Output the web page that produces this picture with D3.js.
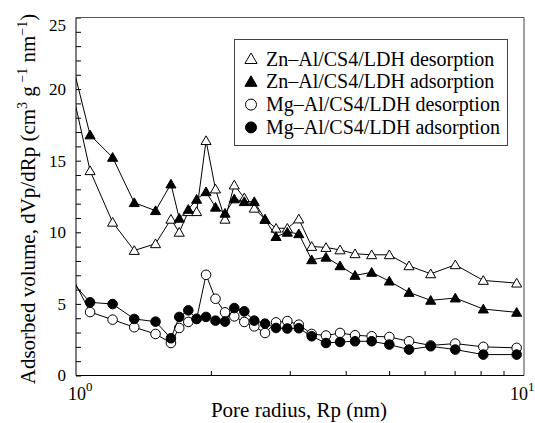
<!DOCTYPE html>
<html>
<head>
<meta charset="utf-8">
<script src="https://cdn.jsdelivr.net/npm/d3@7"></script>
<style>
  body { margin: 0; background: #fff; }
  svg text { font-family: 'Liberation Serif', serif; fill: #000; }
  .line { fill: none; stroke: #000; stroke-width: 1; }
</style>
</head>
<body>
<script>
//Consts/global variables
const w = 535;
const h = 423;
const margin = {top: 17.5, right: 11, bottom: 47, left: 76};
const serif = "'Liberation Serif', serif";

//pore radius (nm) - first value is just left of the axis, line is clipped
const poreRadius = [0.97, 1.075, 1.207, 1.349, 1.505, 1.629, 1.700, 1.781, 1.859, 1.951,
                    2.048, 2.151, 2.256, 2.375, 2.500, 2.642, 2.796, 2.963, 3.143, 3.358,
                    3.614, 3.885, 4.196, 4.571, 5.005, 5.538, 6.19, 7.025, 8.113, 9.63];

const znDes = [20.6, 14.3, 10.7, 8.73, 9.2, 10.91, 10.0, 11.44, 11.44, 16.4,
               13.02, 10.91, 13.3, 12.4, 11.68, 10.9, 10.28, 10.28, 10.93, 9.01,
               8.94, 8.77, 8.5, 8.43, 8.43, 7.66, 7.1, 7.73, 6.64, 6.45];
const znAds = [22.4, 16.8, 15.23, 12.07, 11.51, 13.37, 10.98, 11.6, 12.3, 12.83,
               11.75, 11.33, 12.33, 12.14, 12.14, 10.91, 9.7, 10.0, 9.9, 8.08,
               8.26, 7.66, 6.99, 7.2, 6.59, 5.8, 5.25, 5.41, 4.64, 4.41];
const mgDes = [7.15, 4.43, 3.9, 3.37, 2.9, 2.27, 3.32, 3.74, 3.95, 7.03,
               5.36, 4.41, 4.13, 3.74, 3.43, 2.97, 3.71, 3.8, 3.55, 2.9,
               2.79, 2.97, 2.81, 2.74, 2.69, 2.39, 2.1, 2.23, 2.0, 1.93];
const mgAds = [6.69, 5.11, 4.99, 3.95, 3.76, 2.6, 4.09, 4.55, 3.95, 4.09,
               3.83, 3.76, 4.71, 4.48, 3.83, 3.62, 3.32, 3.28, 3.3, 2.74,
               2.27, 2.34, 2.39, 2.39, 2.16, 1.81, 2.04, 1.81, 1.46, 1.46];

const seriesNames = ["Zn\u2013Al/CS4/LDH desorption", "Zn\u2013Al/CS4/LDH adsorption",
                     "Mg\u2013Al/CS4/LDH desorption", "Mg\u2013Al/CS4/LDH adsorption"];
const seriesValues = [znDes, znAds, mgDes, mgAds];
const seriesShape = ["triangle", "triangle", "circle", "circle"];
const seriesFilled = [false, true, false, true];

const yTicks = [0, 5, 10, 15, 20, 25];
const xMinorTicks = [2, 3, 4, 5, 6, 7, 8, 9];

//scales
const xScale = d3.scaleLog()
                 .domain([1, 10])
                 .range([margin.left, w - margin.right]);

const yScale = d3.scaleLinear()
                 .domain([0, 25])
                 .range([h - margin.bottom - 0.5, margin.top]);

//SVG
const svg = d3.select("body")
        .append("svg")
        .attr("width", w)
        .attr("height", h)
        .style("font-family", serif);

svg.append("clipPath")
   .attr("id", "plot-clip")
   .append("rect")
   .attr("x", margin.left)
   .attr("y", margin.top)
   .attr("width", w - margin.left - margin.right)
   .attr("height", h - margin.top - margin.bottom);

//left axis: inward ticks every 1 unit, labels every 5
const leftAxis = d3.axisLeft(yScale)
                   .tickValues(d3.range(0, 26))
                   .tickSize(-5)
                   .tickPadding(10)
                   .tickFormat(d => yTicks.includes(d) ? d : "");

const gy = svg.append("g")
   .attr("class", "axis")
   .attr("transform", "translate(" + margin.left + ",0)")
   .call(leftAxis)
   .attr("font-family", serif);
gy.selectAll("text").style("font-size", "17px").style("font-family", serif);
gy.selectAll(".tick").filter(d => d === 25).select("text").attr("dy", "0.75em");
gy.select(".domain").remove();

//bottom axis: minor ticks only, labels added below
const bottomAxis = d3.axisBottom(xScale)
                     .tickValues(xMinorTicks)
                     .tickSize(-5)
                     .tickFormat("");

const gx = svg.append("g")
   .attr("class", "axis")
   .attr("transform", "translate(0," + (h - margin.bottom) + ")")
   .call(bottomAxis);
gx.select(".domain").remove();

//frame
const x0 = xScale(1), x1 = xScale(10), y0 = yScale(0), y1 = yScale(25);
svg.append("line").attr("x1", x0).attr("x2", x0).attr("y1", y1).attr("y2", y0)
   .attr("stroke", "#000");
svg.append("line").attr("x1", x0).attr("x2", x1).attr("y1", y0).attr("y2", y0)
   .attr("stroke", "#000");
svg.append("line").attr("x1", x0).attr("x2", x1).attr("y1", y1).attr("y2", y1)
   .attr("stroke", "#555");
svg.append("line").attr("x1", x1).attr("x2", x1).attr("y1", y1).attr("y2", y0)
   .attr("stroke", "#444");

//decade labels 10^0, 10^1
[1, 10].forEach((v, i) => {
  const t = svg.append("text")
     .attr("x", xScale(v) - (i === 0 ? 8 : 14))
     .attr("y", 400)
     .style("font-family", serif)
     .style("font-size", "18px");
  t.append("tspan").text("10");
  t.append("tspan").attr("dy", -9).style("font-size", "13px").text(i);
});

//axis titles
svg.append("text")
   .attr("x", (x0 + x1) / 2 - 1)
   .attr("y", 417)
   .attr("text-anchor", "middle")
   .style("font-family", serif)
   .style("font-size", "21px")
   .text("Pore radius, Rp (nm)");

const yt = svg.append("text")
   .attr("transform", "translate(35,199) rotate(-90)")
   .attr("text-anchor", "middle")
   .style("font-family", serif)
   .style("font-size", "21px");
yt.append("tspan").text("Adsorbed volume, dVp/dRp (cm");
yt.append("tspan").attr("dy", -8).style("font-size", "14px").text("3");
yt.append("tspan").attr("dy", 8).text(" g");
yt.append("tspan").attr("dy", -8).style("font-size", "14px").text(" \u22121");
yt.append("tspan").attr("dy", 8).text(" nm");
yt.append("tspan").attr("dy", -8).style("font-size", "14px").text("\u22121");
yt.append("tspan").attr("dy", 8).text(")");

//line generator
const line = d3.line()
               .x(d => xScale(d[0]))
               .y(d => yScale(d[1]));

const symTri = d3.symbol().type(d3.symbolTriangle).size(44);
const symCirc = d3.symbol().type(d3.symbolCircle).size(72);

const plot = svg.append("g").attr("clip-path", "url(#plot-clip)");

seriesValues.forEach((vals, i) => {
  const pts = vals.map((v, j) => [poreRadius[j], v]);
  plot.append("path")
      .datum(pts)
      .attr("class", "line")
      .attr("d", line);
  plot.selectAll(".m" + i)
      .data(pts)
      .enter()
      .append("path")
      .attr("class", "m" + i)
      .attr("transform", d => "translate(" + xScale(d[0]) + "," + (yScale(d[1]) + (seriesShape[i] === "triangle" ? 1 : 0)) + ")")
      .attr("d", seriesShape[i] === "triangle" ? symTri : symCirc)
      .attr("fill", seriesFilled[i] ? "#000" : "#fff")
      .attr("stroke", "#000")
      .attr("stroke-width", 1);
});

//legend
const legend = svg.append("g");
legend.append("rect")
      .attr("x", 234.5).attr("y", 39.5)
      .attr("width", 273).attr("height", 106)
      .attr("fill", "#fff")
      .attr("stroke", "#444");

const legTri = d3.symbol().type(d3.symbolTriangle).size(64);
const legCirc = d3.symbol().type(d3.symbolCircle).size(95);

seriesNames.forEach((name, i) => {
  const yy = 59 + i * 22.8;
  legend.append("path")
        .attr("transform", "translate(251," + (yy + (seriesShape[i] === "triangle" ? 1 : 0)) + ")")
        .attr("d", seriesShape[i] === "triangle" ? legTri : legCirc)
        .attr("fill", seriesFilled[i] ? "#000" : "#fff")
        .attr("stroke", "#000");
  legend.append("text")
        .attr("x", 266)
        .attr("y", yy + 6.5)
        .style("font-family", serif)
        .style("font-size", "20px")
        .text(name);
});
</script>
</body>
</html>
